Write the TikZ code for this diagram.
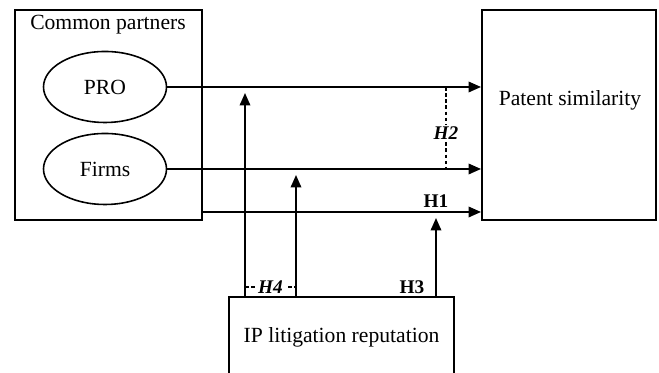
\documentclass[tikz,border=0pt]{standalone}
\usepackage{fontspec}
\setmainfont{Liberation Serif}
\usepackage{tikz}
\usetikzlibrary{arrows.meta, positioning, shapes.geometric}

\begin{document}
\begin{tikzpicture}[
  every node/.style={font=\fontsize{12.3}{14}\selectfont},
  frame/.style={rectangle, draw=black, line width=1.1pt, inner sep=0pt},
  partner/.style={ellipse, draw=black, line width=0.9pt,
                  minimum width=2.46cm, minimum height=1.42cm, inner sep=0pt},
  arr/.style={draw=black, line width=1.1pt, -{Triangle[length=0.25cm, width=0.21cm]}},
  hlink/.style={draw=black, line width=0.7pt, dash pattern=on 2pt off 1.5pt},
  hyp/.style={font=\fontsize{11}{13}\selectfont\bfseries, inner sep=1pt},
]
  \useasboundingbox (0,0) rectangle (13.18,7.46);

  % boxes
  \node[frame, minimum width=3.74cm, minimum height=4.2cm] (partners) at (2.17,5.16) {};
  \node[anchor=center] (ptitle) at (2.16,6.96) {Common partners};
  \node[partner] (pro) at (2.10,5.72) {PRO};
  \node[partner] (firms) at (2.10,4.08) {Firms};
  \node[frame, minimum width=3.48cm, minimum height=4.2cm] (sim) at (11.38,5.16) {};
  \node (simtxt) at (11.40,5.46) {Patent similarity};
  \node[frame, minimum width=4.5cm, minimum height=1.62cm] (ipr) at (6.83,0.71)
    {IP litigation reputation};

  % direct effects
  \coordinate (c1) at (4.04,3.22);
  \draw[arr] (pro.east) -- (pro.east -| sim.west);
  \draw[arr] (firms.east) -- (firms.east -| sim.west);
  \draw[arr] (c1) -- (c1 -| sim.west);

  % moderation
  \coordinate (m1) at (4.90,5.60);
  \coordinate (m2) at (5.92,3.96);
  \coordinate (m3) at (8.72,3.10);
  \draw[arr] (ipr.north -| m1) -- (m1);
  \draw[arr] (ipr.north -| m2) -- (m2);
  \draw[arr] (ipr.north -| m3) -- (m3);

  % hypothesis labels
  \coordinate (d1) at (8.92,5.72);
  \coordinate (d2) at (8.92,4.08);
  \draw[hlink] (d1) -- (d2);
  \node[hyp, fill=white] (h2) at (8.92,4.80) {\itshape H2};
  \node[hyp] (h1) at (8.72,3.43) {H1};
  \coordinate (e1) at (4.90,1.72);
  \coordinate (e2) at (5.92,1.72);
  \draw[hlink] (e1) -- (e2);
  \node[hyp, fill=white] (h4) at (5.41,1.72) {\itshape H4};
  \node[hyp] (h3) at (8.24,1.72) {H3};
\end{tikzpicture}
\end{document}
